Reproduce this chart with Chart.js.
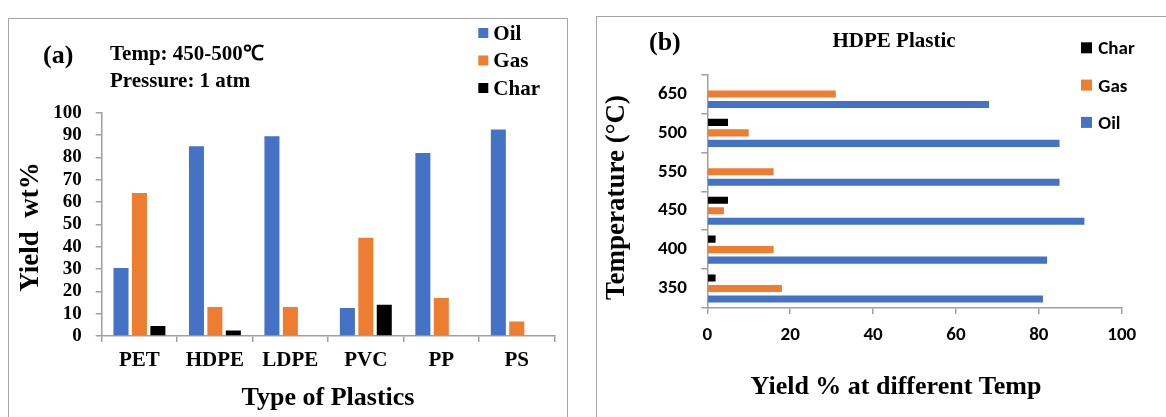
<!DOCTYPE html>
<html>
<head>
<meta charset="utf-8">
<script src="https://cdn.jsdelivr.net/npm/chart.js@4.4.1/dist/chart.umd.min.js"></script>
<style>
  html, body { margin: 0; padding: 0; background: #fff; overflow: hidden; }
  #page { position: relative; width: 1166px; height: 417px; }
  .panel { position: absolute; border: 1.5px solid #a6a6a6; box-sizing: border-box; }
  canvas { position: absolute; top: 0; }
</style>
</head>
<body>
<div id="page">
  <div class="panel" style="left:8px; top:18px; width:560px; height:420px;"></div>
  <div class="panel" style="left:596px; top:16px; width:600px; height:420px;"></div>
  <canvas id="chartA" width="583" height="417" style="left:0px;"></canvas>
  <canvas id="chartB" width="583" height="417" style="left:583px;"></canvas>
</div>
<script>
// (a) yield by plastic type
const plastics = ['PET', 'HDPE', 'LDPE', 'PVC', 'PP', 'PS'];
const oilYield = [30.5, 85, 89.5, 12.5, 82, 92.5];
const gasYield = [64, 13, 13, 44, 17, 6.5];
const charYield = [4.5, 2.5, 0, 14, 0, 0];
const yieldTicksA = [0, 10, 20, 30, 40, 50, 60, 70, 80, 90, 100];

// (b) HDPE at different temperatures (top to bottom)
const temps = ['650', '500', '550', '450', '400', '350'];
const hdpeChar = [0, 5, 0, 5, 2, 2];
const hdpeGas = [31, 10, 16, 4, 16, 18];
const hdpeOil = [68, 85, 85, 91, 82, 81];
const yieldTicksB = [0, 20, 40, 60, 80, 100];

const OIL = '#4472C4', GAS = '#ED7D31', CHAR = '#000000';
const axisGray = '#a0a0a0';
const serif = '"Times New Roman", "Liberation Serif", serif';
const sans = 'Calibri, Carlito, Lato, sans-serif';

// draws the free text and the legend of each panel
const panelText = {
  id: 'panelText',
  afterDraw(chart, args, opts) {
    const ctx = chart.ctx;
    (opts.items || []).forEach(t => {
      ctx.save();
      ctx.font = t.font;
      ctx.fillStyle = '#000';
      ctx.textAlign = t.align || 'left';
      ctx.textBaseline = 'alphabetic';
      ctx.translate(t.x, t.y);
      if (t.rotate) ctx.rotate(t.rotate);
      ctx.fillText(t.text, 0, 0);
      ctx.restore();
    });
    const lg = opts.legend;
    if (!lg) return;
    ctx.save();
    chart.data.datasets.forEach((ds, i) => {
      const cy = lg.y + i * lg.gap;
      ctx.fillStyle = ds.backgroundColor;
      ctx.fillRect(lg.x, cy - lg.box / 2, lg.box, lg.box);
      ctx.fillStyle = '#000';
      ctx.font = lg.font;
      ctx.textAlign = 'left';
      ctx.textBaseline = 'alphabetic';
      ctx.fillText(ds.label, lg.textX, cy + lg.base);
    });
    ctx.restore();
  }
};

const gridOpts = (offset) => ({
  offset: offset,
  drawOnChartArea: false,
  drawTicks: true,
  tickLength: 6,
  color: axisGray,
  lineWidth: 1.5
});

new Chart(document.getElementById('chartA'), {
  type: 'bar',
  data: {
    labels: plastics,
    datasets: [
      { label: 'Oil', data: oilYield, backgroundColor: OIL },
      { label: 'Gas', data: gasYield, backgroundColor: GAS },
      { label: 'Char', data: charYield, backgroundColor: CHAR }
    ]
  },
  options: {
    responsive: false,
    animation: false,
    categoryPercentage: 0.733,
    barPercentage: 0.815,
    layout: { padding: { top: 112.7, right: 28.5, left: 0, bottom: 0 } },
    plugins: {
      legend: { display: false },
      tooltip: { enabled: false },
      panelText: {
        items: [
          { text: '(a)', x: 43, y: 63, font: 'bold 26px ' + serif },
          { text: 'Temp: 450-500\u2103', x: 110, y: 60, font: 'bold 21px ' + serif },
          { text: 'Pressure: 1 atm', x: 110, y: 87, font: 'bold 21px ' + serif },
          { text: 'Yield  wt%', x: 38.3, y: 227, rotate: -Math.PI / 2, align: 'center', font: 'bold 27px ' + serif },
          { text: 'Type of Plastics', x: 328, y: 405, align: 'center', font: 'bold 26px ' + serif }
        ],
        legend: { x: 478.3, y: 33, gap: 27.5, box: 10, textX: 493.3, base: 6.5, font: 'bold 21px ' + serif }
      }
    },
    scales: {
      x: {
        offset: true,
        grid: gridOpts(true),
        border: { display: true, color: axisGray, width: 1.5 },
        ticks: { color: '#000', padding: 6, maxRotation: 0, autoSkip: false,
                 font: { family: serif, size: 21, weight: 'bold' } },
        afterFit: s => { s.height = 81; }
      },
      y: {
        min: 0, max: 100,
        afterBuildTicks: s => { s.ticks = yieldTicksA.map(v => ({ value: v })); },
        grid: gridOpts(false),
        border: { display: true, color: axisGray, width: 1.5 },
        ticks: { color: '#000', padding: 14, autoSkip: false,
                 font: { family: serif, size: 19, weight: 'bold', lineHeight: 1 } },
        afterFit: s => { s.width = 101.7; }
      }
    }
  },
  plugins: [panelText]
});

new Chart(document.getElementById('chartB'), {
  type: 'bar',
  data: {
    labels: temps,
    datasets: [
      { label: 'Char', data: hdpeChar, backgroundColor: CHAR },
      { label: 'Gas', data: hdpeGas, backgroundColor: GAS },
      { label: 'Oil', data: hdpeOil, backgroundColor: OIL }
    ]
  },
  options: {
    indexAxis: 'y',
    responsive: false,
    animation: false,
    categoryPercentage: 0.81,
    barPercentage: 0.67,
    layout: { padding: { top: 74.5, right: 44.3, left: 0, bottom: 0 } },
    plugins: {
      legend: { display: false },
      tooltip: { enabled: false },
      panelText: {
        items: [
          { text: '(b)', x: 66, y: 50, font: 'bold 26px ' + serif },
          { text: 'HDPE Plastic', x: 311, y: 46.7, align: 'center', font: 'bold 21px ' + serif },
          { text: 'Temperature (\u00B0C)', x: 41, y: 197.5, rotate: -Math.PI / 2, align: 'center', font: 'bold 27px ' + serif },
          { text: 'Yield % at different Temp', x: 313, y: 394, align: 'center', font: 'bold 26px ' + serif }
        ],
        legend: { x: 498, y: 47.8, gap: 37.3, box: 11, textX: 515.3, base: 6.6, font: 'bold 19px ' + sans }
      }
    },
    scales: {
      y: {
        offset: true,
        grid: gridOpts(true),
        border: { display: true, color: axisGray, width: 1.5 },
        ticks: { color: '#000', padding: 14.3, autoSkip: false,
                 font: { family: sans, size: 19, weight: 'bold' } },
        afterFit: s => { s.width = 124.3; }
      },
      x: {
        min: 0, max: 100,
        afterBuildTicks: s => { s.ticks = yieldTicksB.map(v => ({ value: v })); },
        grid: gridOpts(false),
        border: { display: true, color: axisGray, width: 1.5 },
        ticks: { color: '#000', padding: 10, maxRotation: 0, autoSkip: false,
                 font: { family: sans, size: 19, weight: 'bold' } },
        afterFit: s => { s.height = 109; }
      }
    }
  },
  plugins: [panelText]
});
</script>
</body>
</html>
